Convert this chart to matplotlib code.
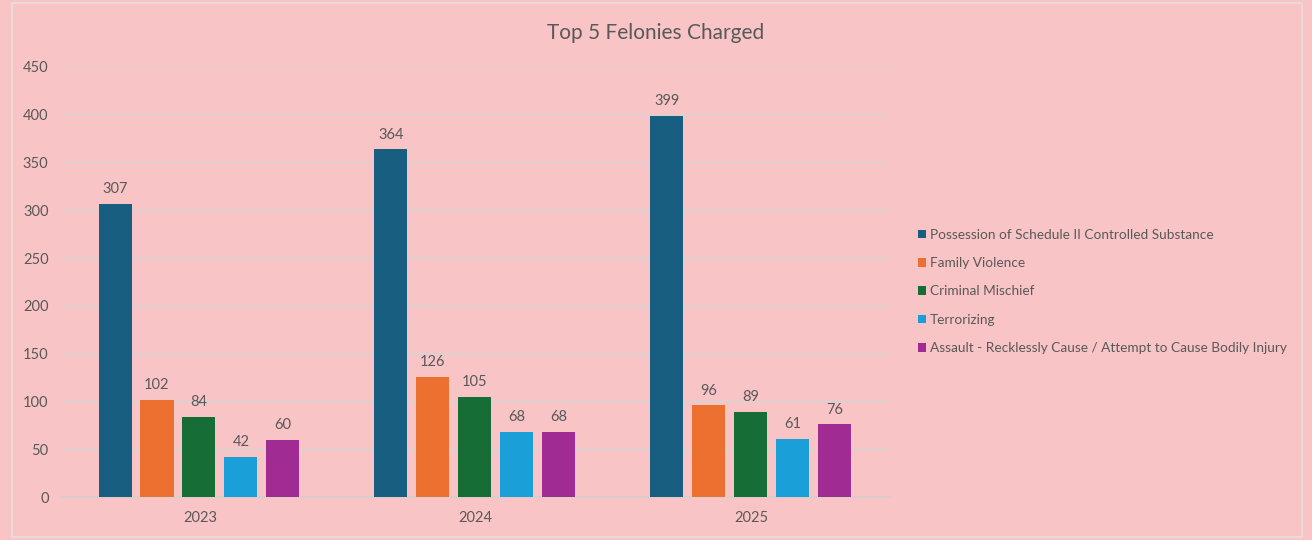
import numpy as np
import matplotlib.pyplot as plt
from matplotlib.patches import Rectangle

years = ["2023", "2024", "2025"]
offenses = [
    "Possession of Schedule II Controlled Substance",
    "Family Violence",
    "Criminal Mischief",
    "Terrorizing",
    "Assault - Recklessly Cause / Attempt to Cause Bodily Injury",
]
possession = [307, 364, 399]
family_violence = [102, 126, 96]
criminal_mischief = [84, 105, 89]
terrorizing = [42, 68, 61]
assault = [60, 68, 76]

series = [possession, family_violence, criminal_mischief, terrorizing, assault]
colors = ["#175E80", "#EC7030", "#166E36", "#1B9FD8", "#A02B93"]

bg = "#F9C4C6"
text_color = "#595959"

plt.rcParams["font.family"] = ["Lato", "DejaVu Sans"]

fig = plt.figure(figsize=(13.12, 5.4), dpi=100, facecolor=bg)
ax = fig.add_axes([0.0465, 0.0796, 0.6315, 0.7964])
ax.set_facecolor(bg)

x = np.arange(len(years))
step = 0.152
width = 0.12
for i, (vals, name, c) in enumerate(zip(series, offenses, colors)):
    pos = x + (i - 2) * step - 0.004
    bars = ax.bar(pos, vals, width, color=c, label=name, zorder=3)
    for b, v in zip(bars, vals):
        ax.text(b.get_x() + b.get_width() / 2, v + 8, str(v), ha="center",
                va="bottom", fontsize=10.5, color=text_color)

ax.set_xlim(-0.504, 2.5)
ax.set_ylim(0, 450)
ax.set_yticks(range(0, 451, 50))
ax.set_xticks(x)
ax.set_xticklabels(years)
ax.grid(axis="y", color="#DCD2D2", linewidth=1.2, zorder=0)
for s in ["top", "right", "left"]:
    ax.spines[s].set_visible(False)
ax.spines["bottom"].set_color("#D6CDCD")
ax.spines["bottom"].set_linewidth(1.2)
ax.tick_params(axis="both", length=0, labelsize=10.5, colors=text_color)
ax.tick_params(axis="y", pad=9)
ax.tick_params(axis="x", pad=10)

fig.text(0.500, 0.938, "Top 5 Felonies Charged", ha="center", va="center",
         fontsize=15, color=text_color)

fig.legend(loc="upper left", bbox_to_anchor=(0.690, 0.599), frameon=False,
           fontsize=9.8, labelcolor=text_color, handlelength=0.6,
           handleheight=0.6, handletextpad=0.3, labelspacing=1.2)

fig.patches.append(Rectangle((12 / 1312, 3 / 540), 1290 / 1312, 534 / 540,
                             transform=fig.transFigure, fill=False,
                             edgecolor="#E6DEDE", linewidth=1.2))

fig.savefig("out.png", dpi=100, facecolor=bg)
